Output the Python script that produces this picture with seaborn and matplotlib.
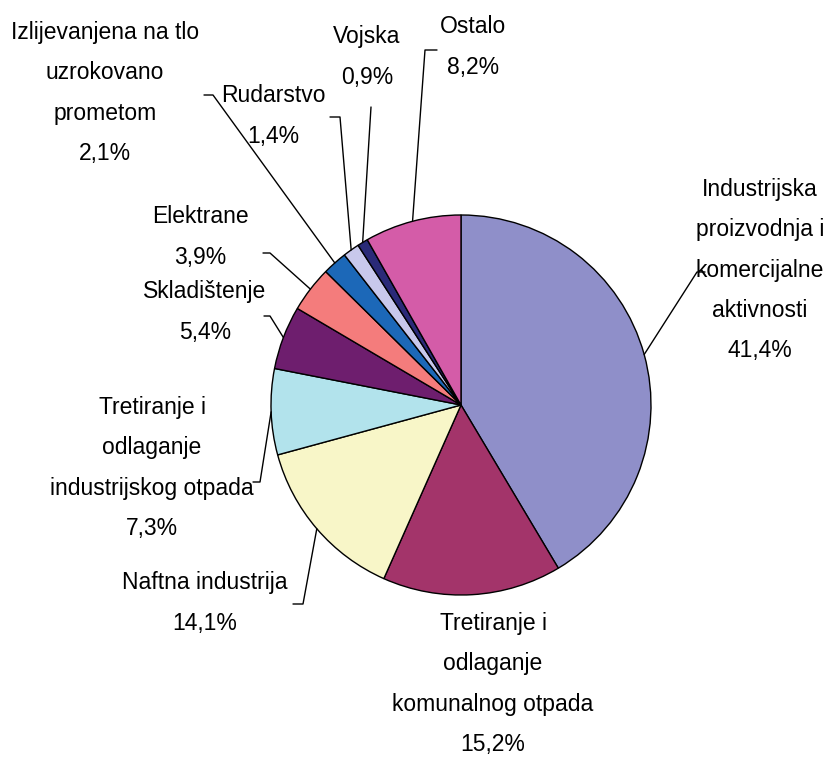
import numpy as np
import seaborn as sns
import matplotlib.pyplot as plt
from matplotlib import font_manager

# ---- data ----
names = ["Industrijska\nproizvodnja i\nkomercijalne\naktivnosti",
         "Tretiranje i\nodlaganje\nkomunalnog otpada",
         "Naftna industrija",
         "Tretiranje i\nodlaganje\nindustrijskog otpada",
         "Skladištenje",
         "Elektrane",
         "Izlijevanjena na tlo\nuzrokovano\nprometom",
         "Rudarstvo",
         "Vojska",
         "Ostalo"]
values = [41.4, 15.2, 14.1, 7.3, 5.4, 3.9, 2.1, 1.4, 0.9, 8.2]
colors = ["#8F8FC9", "#A3346A", "#F8F6C8", "#B2E3EC", "#6E1E6E",
          "#F47C7C", "#1C68B8", "#C8C8EC", "#2A2A78", "#D45CA8"]

# ---- layout (pixel positions in the 832x758 canvas) ----
CX, CY, RPX = 461, 405, 190
label_pos = [(760, 270), (493, 684), (205, 603), (152, 468), (205, 312),
             (200, 237), (105, 93), (273, 116), (367, 57), (473, 47)]
elbows = [[(697, 272), (705, 272)],
          None,
          [(303, 604), (293, 604)],
          [(260, 482), (253, 482)],
          [(270, 316), (264, 316)],
          [(270, 253), (263, 253)],
          [(213, 95), (204, 95)],
          [(340, 117), (330, 117)],
          [(371, 107)],
          [(425, 50), (437, 50)]]


def P(px, py):
    return (px - CX) / RPX, (CY - py) / RPX


sns.set_theme(style="white")
avail = {f.name for f in font_manager.fontManager.ttflist}
fam = [f for f in ["Liberation Sans Narrow", "Liberation Sans", "DejaVu Sans"] if f in avail]
plt.rcParams['font.family'] = fam

fig = plt.figure(figsize=(8.32, 7.58), dpi=100)
ax = fig.add_axes([0, 0, 1, 1])
wedges, _ = ax.pie(values, colors=colors, startangle=90, counterclock=False,
                   radius=1.0, wedgeprops=dict(edgecolor="black", linewidth=1.0))

for w, name, v, pos, el in zip(wedges, names, values, label_pos, elbows):
    mid = np.deg2rad((w.theta1 + w.theta2) / 2)
    start = (np.cos(mid), np.sin(mid))
    if el:
        pts = [start] + [P(*p) for p in el]
        xs, ys = zip(*pts)
        ax.plot(xs, ys, color="black", lw=1.0)
    txt = f"{name}\n{v:.1f}%".replace(".", ",")
    ax.text(*P(*pos), txt, ha="center", va="center", fontsize=16.5,
            linespacing=1.95, color="black")

ax.set_xlim(P(0, 0)[0], P(832, 0)[0])
ax.set_ylim(P(0, 758)[1], P(0, 0)[1])
ax.set_aspect("equal")
ax.axis("off")
fig.savefig("out.png", dpi=100, facecolor="white")
